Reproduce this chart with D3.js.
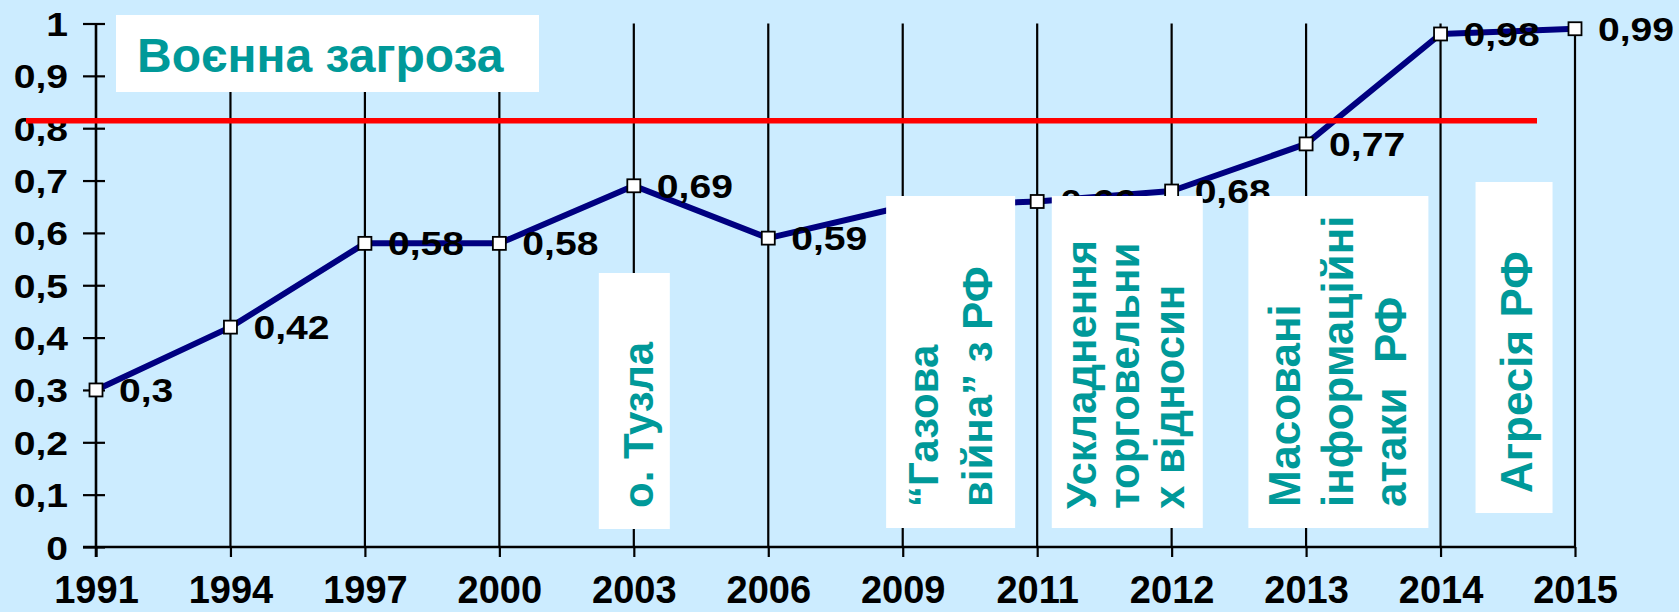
<!DOCTYPE html>
<html>
<head>
<meta charset="utf-8">
<script src="https://cdn.jsdelivr.net/npm/d3@7"></script>
<style>
  html, body { margin: 0; padding: 0; background: #CCECFF; overflow: hidden; }
  svg { display: block; }
  text { font-family: "Liberation Sans", Arial, sans-serif; font-weight: bold; }
</style>
</head>
<body>
<script>
// ---------- data ----------
const years = ["1991","1994","1997","2000","2003","2006","2009","2011","2012","2013","2014","2015"];
const values = [0.30, 0.42, 0.58, 0.58, 0.69, 0.59, 0.65, 0.66, 0.68, 0.77, 0.98, 0.99];
const valueLabels = ["0,3","0,42","0,58","0,58","0,69","0,59","0,65","0,66","0,68","0,77","0,98","0,99"];
const yTickValues = [0, 0.1, 0.2, 0.3, 0.4, 0.5, 0.6, 0.7, 0.8, 0.9, 1];
const yTickLabels = ["0","0,1","0,2","0,3","0,4","0,5","0,6","0,7","0,8","0,9","1"];
const thresholdValue = [0.814];
const titleText = ["Воєнна загроза"];
const annotationYears = ["2003","2009","2011","2013","2014"];
const annotationLines = [
  ["о. Тузла"],
  ["“Газова", "війна” з РФ"],
  ["Ускладнення", "торговельни", "х відносин"],
  ["Масовані", "інформаційні", "атаки  РФ"],
  ["Агресія РФ"]
];

// ---------- layout (pixels, styling only) ----------
const W = 1679, H = 612;
const annLayout = [
  {dx: -35,  w: 71,  top: 273, bottom: 529, start: 508, font: 42, base: [54]},
  {dx: -16.6,w: 129, top: 196, bottom: 528, start: 507, font: 42, base: [52, 106]},
  {dx: 14.6, w: 151, top: 196, bottom: 528, start: 509, font: 42, base: [44, 87, 132]},
  {dx: -57.7,w: 180, top: 196, bottom: 528, start: 507, font: 44, base: [52, 105, 158]},
  {dx: 35,   w: 77,  top: 182, bottom: 513, start: 493, font: 44, base: [56]}
];
const TEAL = "#009999";
const SX = 1.15; // horizontal stretch of numeric labels

const svg = d3.select("body").append("svg").attr("width", W).attr("height", H);
svg.append("rect").attr("width", W).attr("height", H).attr("fill", "#CCECFF");

const x = d3.scalePoint().domain(years).range([96, 1575]);
const y = d3.scaleLinear().domain([0, 1]).range([547, 23.5]);

// vertical gridlines
svg.append("g").selectAll("line").data(years.slice(1)).join("line")
  .attr("x1", d => x(d)).attr("x2", d => x(d))
  .attr("y1", y(1)).attr("y2", y(0))
  .attr("stroke", "#000").attr("stroke-width", 2.2);

// x axis
const xg = svg.append("g").attr("transform", `translate(0,${y(0)})`)
  .call(d3.axisBottom(x).tickSize(10).tickSizeOuter(0));
xg.select(".domain").remove();
xg.selectAll(".tick line").attr("stroke", "#000").attr("stroke-width", 2.2);
xg.selectAll(".tick text")
  .attr("y", 603 - y(0)).attr("dy", null)
  .attr("fill", "#000").attr("font-size", 38)
  .attr("font-family", "'Liberation Sans', Arial, sans-serif").attr("font-weight", "bold");
xg.append("line").attr("x1", 83).attr("x2", x(years[years.length - 1]))
  .attr("y1", 0).attr("y2", 0).attr("stroke", "#000").attr("stroke-width", 2.6);

// y axis
const yg = svg.append("g").attr("transform", `translate(${x(years[0])},0)`)
  .call(d3.axisLeft(y).tickValues(yTickValues).tickFormat((d, i) => yTickLabels[i]).tickSizeOuter(0));
yg.select(".domain").remove();
yg.selectAll(".tick line").attr("x1", -13).attr("x2", 9).attr("stroke", "#000").attr("stroke-width", 2.2);
yg.selectAll(".tick text")
  .attr("x", null).attr("dy", null)
  .attr("transform", `translate(${68 - x(years[0])},12) scale(${SX},1)`)
  .attr("text-anchor", "end")
  .attr("fill", "#000").attr("font-size", 34)
  .attr("font-family", "'Liberation Sans', Arial, sans-serif").attr("font-weight", "bold");
yg.append("line").attr("x1", 0).attr("x2", 0).attr("y1", y(1)).attr("y2", y(0) + 10)
  .attr("stroke", "#000").attr("stroke-width", 2.6);

// series line
const line = d3.line().x((d, i) => x(years[i])).y(d => y(d));
svg.append("path").datum(values).attr("d", line)
  .attr("fill", "none").attr("stroke", "#000080").attr("stroke-width", 6)
  .attr("stroke-linejoin", "round");

// threshold red line
svg.append("g").selectAll("line").data(thresholdValue).join("line")
  .attr("x1", 26).attr("x2", 1537)
  .attr("y1", d => y(d)).attr("y2", d => y(d))
  .attr("stroke", "#FF0000").attr("stroke-width", 5.5);

// markers
svg.append("g").selectAll("rect").data(values).join("rect")
  .attr("x", (d, i) => x(years[i]) - 6.5).attr("y", d => y(d) - 6.5)
  .attr("width", 13).attr("height", 13)
  .attr("fill", "#fff").attr("stroke", "#000").attr("stroke-width", 1.8);

// data labels
svg.append("g").selectAll("text").data(values).join("text")
  .attr("transform", (d, i) => `translate(${x(years[i]) + 23},${y(d) + 12}) scale(${SX},1)`)
  .attr("font-size", 34).attr("fill", "#000")
  .text((d, i) => valueLabels[i]);

// title box
svg.append("rect").attr("x", 116).attr("y", 15).attr("width", 423).attr("height", 77).attr("fill", "#fff");
svg.append("text").attr("x", 137).attr("y", 72).attr("font-size", 48).attr("fill", TEAL).text(titleText[0]);

// annotation boxes
annotationYears.forEach((yr, k) => {
  const L = annLayout[k];
  const left = x(yr) + L.dx;
  const g = svg.append("g");
  g.append("rect").attr("x", left).attr("y", L.top).attr("width", L.w).attr("height", L.bottom - L.top).attr("fill", "#fff");
  g.selectAll("text").data(annotationLines[k]).join("text")
    .attr("transform", (d, i) => `translate(${left + L.base[i]},${L.start}) rotate(-90)`)
    .attr("font-size", L.font).attr("fill", TEAL)
    .style("white-space", "pre")
    .text(d => d);
});
</script>
</body>
</html>
